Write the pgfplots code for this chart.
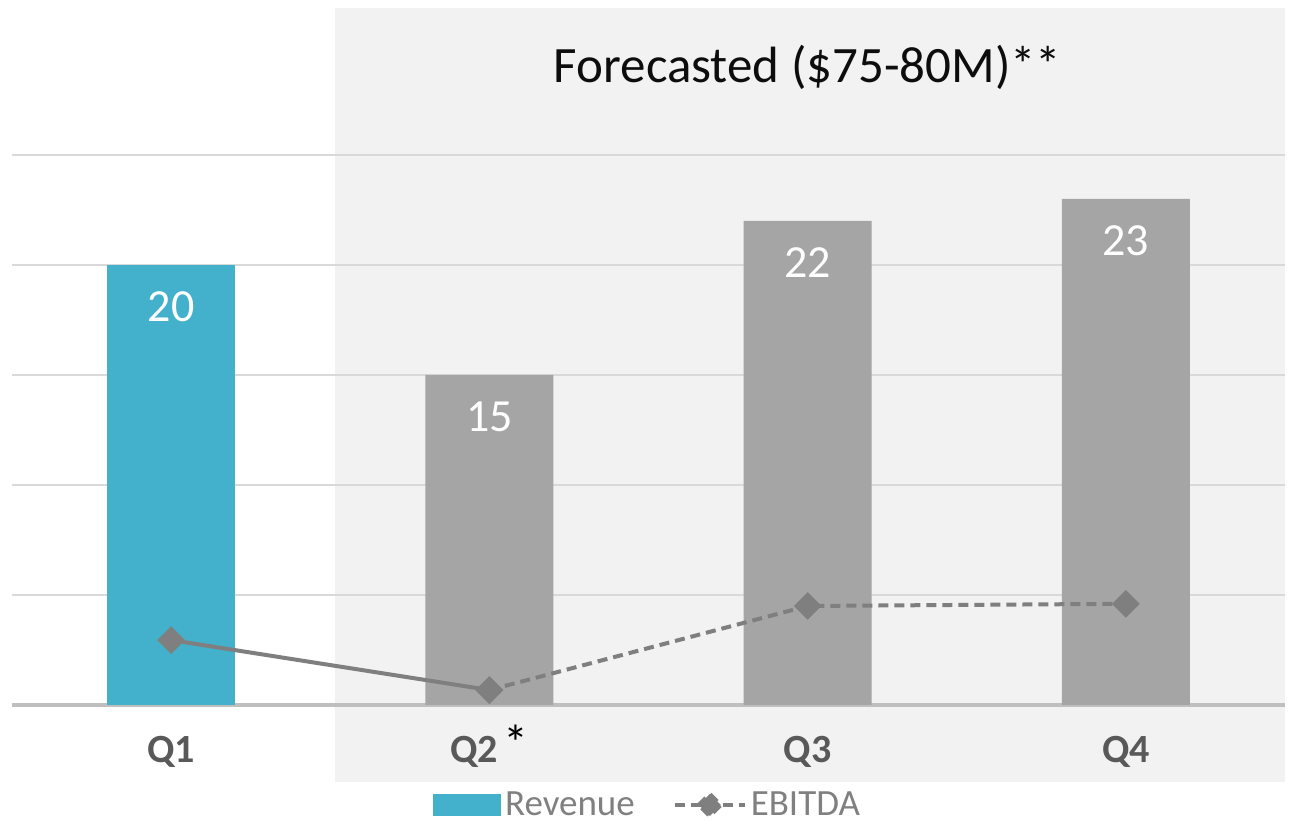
\documentclass[border=0pt]{standalone}
\usepackage{pgfplots}
\pgfplotsset{compat=1.18}
\usepackage{fontspec}
\setmainfont{Carlito}
\definecolor{revblue}{HTML}{44B1CC}
\definecolor{bargray}{HTML}{A5A5A5}
\definecolor{linegray}{HTML}{7F7F7F}
\definecolor{shadec}{HTML}{F2F2F2}
\definecolor{gridc}{HTML}{D9D9D9}
\definecolor{basec}{HTML}{BFBFBF}
\definecolor{ticktext}{HTML}{595959}
\definecolor{legtext}{HTML}{808080}
\begin{document}
\begin{tikzpicture}
\begin{axis}[
  set layers,
  /pgf/number format/assume math mode=true,
  scale only axis, width=636.5pt, height=330pt,
  xmin=-0.5, xmax=3.5, ymin=0, ymax=30,
  clip=false,
  axis x line*=bottom, axis y line*=left,
  y axis line style={draw=none},
  x axis line style={basec, line width=2pt, -},
  major tick length=0pt,
  ytick={5,10,15,20,25}, yticklabels={},
  ymajorgrids, grid style={gridc, line width=0.6pt},
  xtick={0,1,2,3},
  xticklabels={\textbf{Q1},{\textbf{Q2}\hspace{3pt}{\mdseries\color{black}\raisebox{1pt}{\fontsize{25}{28}\selectfont *}}},\textbf{Q3},\textbf{Q4}},
  xticklabel style={font=\fontsize{20}{24}\selectfont, text=ticktext, anchor=base, yshift=-29pt},
  bar width=64pt,
  nodes near coords,
  every node near coord/.append style={font=\fontsize{23}{27}\selectfont, text=white, anchor=base, yshift=-28.5pt},
  legend style={at={(0.5,-0.1515)}, anchor=center, draw=none, fill=none,
    font=\fontsize{18.5}{22}\selectfont, text=legtext,
    /tikz/every even column/.append style={column sep=17pt}},
  legend columns=2,
]
\begin{pgfonlayer}{axis background}
\fill[shadec] (axis cs:0.515,-3.5) rectangle (axis cs:3.5,31.7);
\end{pgfonlayer}
\addplot[ybar, bar shift=0pt, fill=revblue, draw=none,
  legend image code/.code={\fill[revblue] (0pt,-5.5pt) rectangle (34pt,5.5pt);}]
  coordinates {(0,20)};
\addlegendentry{Revenue}
\addplot[ybar, bar shift=0pt, fill=bargray, draw=none, forget plot]
  coordinates {(1,15) (2,22) (3,23)};
\addplot[linegray, line width=2pt, mark=square*, mark size=3.9pt,
  mark options={solid, rotate=45, fill=linegray}, nodes near coords=, forget plot]
  coordinates {(0,2.95) (1,0.68)};
\addplot[linegray, line width=2pt, dash pattern=on 5pt off 3pt, mark=square*, mark size=3.9pt,
  mark options={solid, rotate=45, fill=linegray}, nodes near coords=,
  legend image code/.code={
    \draw[linegray, line width=2pt, dash pattern=on 5pt off 3pt] (0pt,0pt) -- (35pt,0pt);
    \fill[linegray] (17.5pt,0pt) +(-5.5pt,0pt) -- +(0pt,5.5pt) -- +(5.5pt,0pt) -- +(0pt,-5.5pt) -- cycle;}]
  coordinates {(1,0.68) (2,4.5) (3,4.6)};
\addlegendentry{EBITDA}
\node[font=\fontsize{25.5}{30}\selectfont, text=black!95] at (axis cs:2,29) {Forecasted (\$75-80M)**};
\coordinate (BL) at (rel axis cs:0,0);
\coordinate (TR) at (rel axis cs:1,1);
\end{axis}
\pgfresetboundingbox
\path ([xshift=-6pt,yshift=-58.5pt]BL) rectangle ([xshift=4.5pt,yshift=22.5pt]TR);
\end{tikzpicture}
\end{document}
